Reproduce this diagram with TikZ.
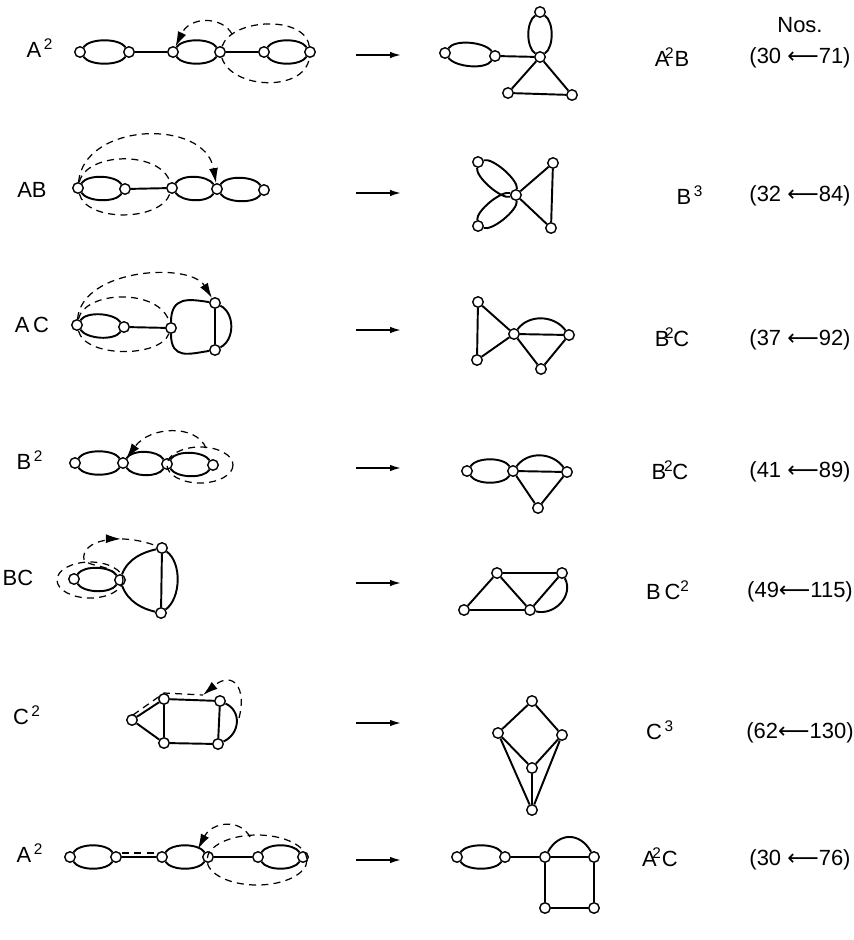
\documentclass[tikz,border=0pt]{standalone}
\usepackage{fontspec}
\setmainfont{Liberation Sans}
\newfontfamily\arrfont{DejaVu Sans}
\newcommand{\la}{{\arrfont ⟵}}
\newcommand{\hlens}[2]{\draw (#1) .. controls +(10,-14) and +(-10,-14) .. (#2) .. controls +(-10,14) and +(10,14) .. (#1);}
\usetikzlibrary{arrows.meta,decorations.markings}

\begin{document}
\begin{tikzpicture}[x=0.02cm,y=-0.02cm,line width=1.1pt,
    vtx/.style={circle,draw,fill=white,line width=0.8pt,inner sep=0pt,minimum size=2.1mm},
    dsh/.style={dash pattern=on 4pt off 3pt,line width=0.7pt},
    tip/.style={-{Latex[length=3mm,width=1.8mm]}},
    midtip/.style={postaction={decorate},decoration={markings,
        mark=at position #1 with {\arrow{Latex[length=3mm,width=1.8mm]}}}},
    conv/.style={-{Latex[length=2.2mm,width=1.3mm]},line width=0.9pt},
    lbl/.style={font=\fontsize{12.5}{14}\selectfont}]
                        \useasboundingbox (0,0) rectangle (854,940);
                        \node[lbl] (nos) at (800,25) {Nos.};
                        % A^2 -> A^2B
                        \node[lbl] (r1) at (40,48) {A\textsuperscript{\,2}};
                        \node[vtx] (a1) at (80,52) {};
                        \node[vtx] (a2) at (129,52) {};
                        \node[vtx] (a3) at (173,52) {};
                        \node[vtx] (a4) at (220,52) {};
                        \node[vtx] (a5) at (264,52) {};
                        \node[vtx] (a6) at (310,52) {};
                        \coordinate (a7) at (232,34);
                        \hlens{a1}{a2}
                        \draw (a2) -- (a3);
                        \hlens{a3}{a4}
                        \draw (a4) -- (a5);
                        \hlens{a5}{a6}
                        \draw[dsh] (a4) .. controls (232,18) and (305,15) .. (a6);
                        \draw[dsh] (a4) .. controls (232,90) and (305,92) .. (a6);
                        \draw[dsh,tip] (a7) .. controls (222,16) and (190,16) .. (a3);
                        \coordinate (p1) at (356,55);
                        \coordinate (q1) at (401,55);
                        \draw[conv] (p1) -- (q1);
                        \node[vtx] (b1) at (445,53) {};
                        \node[vtx] (b2) at (495,56) {};
                        \node[vtx] (b3) at (540,57) {};
                        \node[vtx] (b4) at (540,12) {};
                        \node[vtx] (b5) at (508,93) {};
                        \node[vtx] (b6) at (572,95) {};
                        \hlens{b1}{b2}
                        \draw (b2) -- (b3);
                        \draw (b3) .. controls +(-14,-10) and +(-14,10) .. (b4) .. controls +(14,10) and +(14,-10) .. (b3);
                        \draw (b3) -- (b5) -- (b6) -- (b3);
                        \node[lbl] (s1) at (672,57) {A\kern-.2em\textsuperscript{2}B};
                        \node[lbl] (t1) at (800,58) {(30 \la71)};
                        % AB -> B^3
                        \node[lbl] (r2) at (32,190) {AB};
                        \node[vtx] (c1) at (78,188) {};
                        \node[vtx] (c2) at (125,189) {};
                        \node[vtx] (c3) at (172,188) {};
                        \node[vtx] (c4) at (217,189) {};
                        \node[vtx] (c5) at (264,190) {};
                        \hlens{c1}{c2}
                        \draw (c2) -- (c3);
                        \hlens{c3}{c4}
                        \hlens{c4}{c5}
                        \draw[dsh] (c1) .. controls (86,152) and (160,150) .. (c3);
                        \draw[dsh] (c1) .. controls (86,222) and (160,222) .. (c3);
                        \draw[dsh,tip] (c1) .. controls (84,122) and (205,118) .. (c4);
                        \coordinate (p2) at (356,193);
                        \coordinate (q2) at (401,193);
                        \draw[conv] (p2) -- (q2);
                        \node[vtx] (d0) at (516,195) {};
                        \node[vtx] (d1) at (478,162) {};
                        \node[vtx] (d2) at (478,226) {};
                        \node[vtx] (d3) at (553,163) {};
                        \node[vtx] (d4) at (551,228) {};
                        \draw (d0) .. controls +(2.5,-15) and +(14.7,-4.6) .. (d1) .. controls +(-2.5,15) and +(-14.7,4.6) .. (d0);
                        \draw (d0) .. controls +(2,15) and +(14.4,5) .. (d2) .. controls +(-2,-15) and +(-14.4,-5) .. (d0);
                        \draw (d0) -- (d3) -- (d4) -- (d0);
                        \node[lbl] (s2) at (690,195) {B\textsuperscript{\,3}};
                        \node[lbl] (t2) at (800,196) {(32 \la84)};
                        % AC -> B^2C
                        \node[lbl] (r3) at (32,325) {A\,C};
                        \node[vtx] (e1) at (77,325) {};
                        \node[vtx] (e2) at (124,327) {};
                        \node[vtx] (e3) at (171,328) {};
                        \node[vtx] (e4) at (215,303) {};
                        \node[vtx] (e5) at (215,350) {};
                        \hlens{e1}{e2}
                        \draw (e2) -- (e3);
                        \draw (e3) .. controls +(0,-32) and +(-26,-4) .. (e4);
                        \draw (e3) .. controls +(0,32) and +(-26,4) .. (e5);
                        \draw (e4) -- (e5);
                        \draw (e4) .. controls +(20,10) and +(20,-10) .. (e5);
                        \draw[dsh] (e1) .. controls (85,290) and (160,288) .. (e3);
                        \draw[dsh] (e1) .. controls (85,358) and (160,358) .. (e3);
                        \draw[dsh,tip] (e1) .. controls (82,268) and (190,262) .. (e4);
                        \coordinate (p3) at (356,330);
                        \coordinate (q3) at (401,330);
                        \draw[conv] (p3) -- (q3);
                        \node[vtx] (f1) at (478,302) {};
                        \node[vtx] (f2) at (477,360) {};
                        \node[vtx] (f3) at (514,334) {};
                        \node[vtx] (f4) at (569,335) {};
                        \node[vtx] (f5) at (541,369) {};
                        \draw (f1) -- (f2) -- (f3) -- (f1);
                        \draw (f3) -- (f4);
                        \draw (f3) .. controls +(15,-20) and +(-15,-20) .. (f4);
                        \draw (f3) -- (f5) -- (f4);
                        \node[lbl] (s3) at (672,337) {B\kern-.2em\textsuperscript{2}\kern-.05em C};
                        \node[lbl] (t3) at (800,340) {(37 \la92)};
                        % B^2 -> B^2C
                        \node[lbl] (r4) at (30,460) {B\textsuperscript{\,2}};
                        \node[vtx] (g1) at (75,463) {};
                        \node[vtx] (g2) at (123,463) {};
                        \node[vtx] (g3) at (167,464) {};
                        \node[vtx] (g4) at (213,465) {};
                        \coordinate (g5) at (206,448);
                        \hlens{g1}{g2}
                        \hlens{g2}{g3}
                        \hlens{g3}{g4}
                        \draw[dsh] (200,465) ellipse [x radius=33,y radius=18];
                        \draw[dsh,tip] (g5) .. controls (196,424) and (150,426) .. (g2);
                        \coordinate (p4) at (356,468);
                        \coordinate (q4) at (401,468);
                        \draw[conv] (p4) -- (q4);
                        \node[vtx] (h1) at (467,471) {};
                        \node[vtx] (h2) at (513,471) {};
                        \node[vtx] (h3) at (567,472) {};
                        \node[vtx] (h4) at (538,508) {};
                        \hlens{h1}{h2}
                        \draw (h2) -- (h3);
                        \draw (h2) .. controls +(15,-20) and +(-15,-20) .. (h3);
                        \draw (h2) -- (h4) -- (h3);
                        \node[lbl] (s4) at (670,470) {B\kern-.1em\textsuperscript{2}\kern-.05em C};
                        \node[lbl] (t4) at (800,472) {(41 \la89)};
                        % BC -> BC^2
                        \node[lbl] (r5) at (18,578) {BC};
                        \node[vtx] (i1) at (74,579) {};
                        \node[vtx] (i2) at (120,580) {};
                        \node[vtx] (i3) at (162,548) {};
                        \node[vtx] (i4) at (161,613) {};
                        \hlens{i1}{i2}
                        \draw (i2) .. controls +(8,-22) and +(-18,4) .. (i3);
                        \draw (i2) .. controls +(8,22) and +(-18,-4) .. (i4);
                        \draw (i3) -- (i4);
                        \draw (i3) .. controls +(20,15) and +(20,-15) .. (i4);
                        \draw[dsh] (90,580) ellipse [x radius=33,y radius=18];
                        \draw[dsh,midtip=0.7] (i2) .. controls (110,565) and (90,567) .. (84,560)
                            .. controls (80,540) and (120,532) .. (i3);
                        \coordinate (p5) at (356,583);
                        \coordinate (q5) at (401,583);
                        \draw[conv] (p5) -- (q5);
                        \node[vtx] (j1) at (497,573) {};
                        \node[vtx] (j2) at (562,573) {};
                        \node[vtx] (j3) at (464,610) {};
                        \node[vtx] (j4) at (530,610) {};
                        \draw (j1) -- (j2);
                        \draw (j1) -- (j3) -- (j4) -- (j1);
                        \draw (j2) -- (j4);
                        \draw (j2) .. controls +(12,22) and +(25,6) .. (j4);
                        \node[lbl] (s5) at (668,590) {B\,C\textsuperscript{2}};
                        \node[lbl] (t5) at (800,592) {(49\la115)};
                        % C^2 -> C^3
                        \node[lbl] (r6) at (27,715) {C\textsuperscript{\,2}};
                        \node[vtx] (k1) at (132,720) {};
                        \node[vtx] (k2) at (164,699) {};
                        \node[vtx] (k3) at (220,701) {};
                        \node[vtx] (k4) at (164,743) {};
                        \node[vtx] (k5) at (218,744) {};
                        \coordinate (k6) at (203,695);
                        \coordinate (k7) at (239,718);
                        \draw (k1) -- (k2) -- (k3) -- (k5) -- (k4) -- (k1);
                        \draw (k2) -- (k4);
                        \draw (k3) .. controls +(22,10) and +(22,-10) .. (k5);
                        \draw[dsh] ([shift={(1,-5)}]k1.center) -- ([shift={(0,-6)}]k2.center) -- (k6);
                        \draw[dsh,tip] (k7) .. controls (247,688) and (233,670) .. (k6);
                        \coordinate (p6) at (356,723);
                        \coordinate (q6) at (401,723);
                        \draw[conv] (p6) -- (q6);
                        \node[vtx] (l1) at (532,701) {};
                        \node[vtx] (l2) at (498,733) {};
                        \node[vtx] (l3) at (562,735) {};
                        \node[vtx] (l4) at (532,768) {};
                        \node[vtx] (l5) at (532,810) {};
                        \draw (l1) -- (l2) -- (l4) -- (l3) -- (l1);
                        \draw (l4) -- (l5);
                        \draw (l2) -- (l5) -- (l3);
                        \node[lbl] (s6) at (660,730) {C\textsuperscript{\,3}};
                        \node[lbl] (t6) at (800,733) {(62\la130)};
                        % A^2 -> A^2C
                        \node[lbl] (r7) at (30,853) {A\textsuperscript{\,2}};
                        \node[vtx] (m1) at (70,857) {};
                        \node[vtx] (m2) at (116,857) {};
                        \node[vtx] (m3) at (162,857) {};
                        \node[vtx] (m4) at (208,857) {};
                        \node[vtx] (m5) at (258,857) {};
                        \node[vtx] (m6) at (303,857) {};
                        \coordinate (m7) at (250,837);
                        \coordinate (m8) at (198,849);
                        \hlens{m1}{m2}
                        \draw (m2) -- (m3);
                        \hlens{m3}{m4}
                        \draw (m4) -- (m5);
                        \hlens{m5}{m6}
                        \draw[dsh] ([shift={(6,-4)}]m2.center) -- ([shift={(-6,-4)}]m3.center);
                        \draw[dsh] (257,860) ellipse [x radius=50,y radius=25];
                        \draw[dsh,tip] (m7) .. controls (240,818) and (212,822) .. (m8);
                        \coordinate (p7) at (356,860);
                        \coordinate (q7) at (401,860);
                        \draw[conv] (p7) -- (q7);
                        \node[vtx] (n1) at (457,857) {};
                        \node[vtx] (n2) at (505,857) {};
                        \node[vtx] (n3) at (545,857) {};
                        \node[vtx] (n4) at (594,857) {};
                        \node[vtx] (n5) at (545,908) {};
                        \node[vtx] (n6) at (594,908) {};
                        \hlens{n1}{n2}
                        \draw (n2) -- (n3) -- (n4) -- (n6) -- (n5) -- (n3);
                        \draw (n3) .. controls +(14,-25) and +(-14,-25) .. (n4);
                        \node[lbl] (s7) at (660,857) {A\kern-.2em\textsuperscript{2}C};
                        \node[lbl] (t7) at (800,860) {(30 \la76)};
\end{tikzpicture}
\end{document}
